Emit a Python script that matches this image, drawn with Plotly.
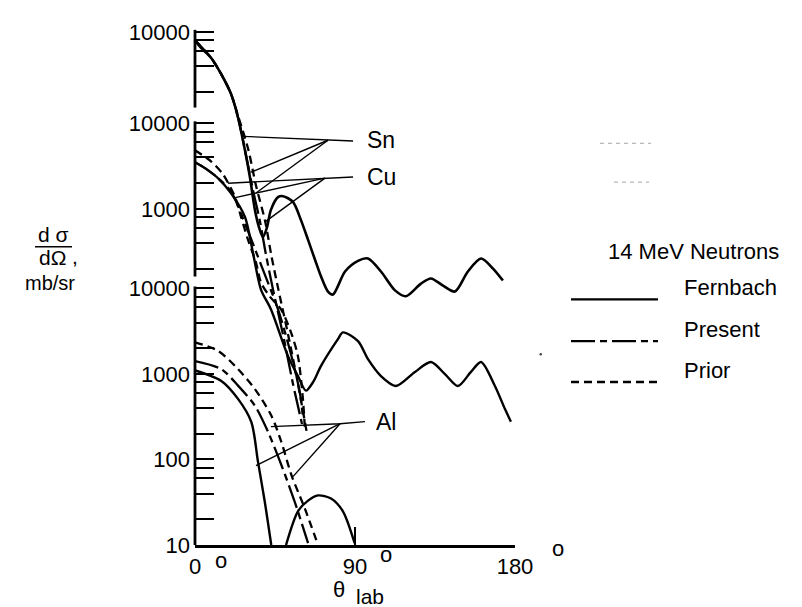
import numpy as np
import plotly.graph_objects as go

FONT = "Liberation Sans"

# ---------------- data (angle in degrees, cross section in mb/sr) ----------------
# Sn
sn_fern_deg = [0, 3.4, 9.0, 14.6, 20.2, 24.2, 28.1, 30.9, 33.7, 36.0, 38.2, 40.5, 42.7, 46.7, 49.5, 55.1,
               59.6, 63.6, 67.5, 70.9, 74.8, 77.6, 84.4, 91.7, 97.3, 104.6, 112.5, 118.7, 127.1, 132.7,
               139.5, 146.2, 153.5, 160.9, 167.6, 173.2]
sn_fern_val = [8000, 6500, 5000, 3250, 1900, 1000, 413, 200, 83, 52, 40, 52, 83, 117, 120, 103,
               63, 37, 21.7, 13.8, 9.2, 8.5, 15.8, 21, 22.4, 15.8, 9.5, 8.1, 11.4, 13.1,
               10.8, 9.2, 15.8, 22.4, 17.1, 12.4]
sn_pres_deg = [0, 9.0, 14.6, 20.2, 24.2, 28.7, 32.6, 36.6, 39.9, 43.9, 49.5, 55.1, 60.2]
sn_pres_val = [8000, 5000, 3250, 1900, 1000, 361, 142, 60, 25, 9.7, 2.9, 0.77, 0.26]
sn_prior_deg = [0, 9.0, 14.6, 20.2, 24.2, 30.0, 34.3, 39.4, 43.0, 47.0, 52.5, 58.0, 63.0]
sn_prior_val = [8000, 5000, 3250, 1900, 1050, 420, 160, 62, 24, 9.5, 2.8, 0.75, 0.2]

# Cu
cu_fern_deg = [0, 5.6, 12.9, 20.2, 28.1, 32.6, 37.1, 42.7, 52.3, 57.9, 62.4, 66.5, 70.9, 80.4, 83.2,
               91.7, 97.3, 104.6, 113.0, 123.7, 132.7, 140.6, 147.9, 155.2, 160.9, 168.7, 174.3, 177.7]
cu_fern_val = [3520, 3000, 2290, 1530, 807, 307, 114, 67, 19, 11.1, 7.5, 9.5, 14.6, 30, 36,
               28.4, 17.5, 11.1, 8.5, 12.4, 16.2, 11.7, 8.5, 12.4, 16.2, 8.5, 4.6, 3.25]
cu_pres_deg = [0, 5.6, 12.9, 20.2, 29.8, 38.2, 46.7, 54.0, 59.1, 60.8]
cu_pres_val = [3520, 3000, 2300, 1600, 550, 195, 67, 20, 6.9, 3.5]
cu_prior_deg = [0, 9.0, 15.7, 22.5, 25.9, 29.8, 34.3, 37.1, 42.0, 48.4, 54.0, 57.9, 60.7, 61.9]
cu_prior_val = [4850, 3610, 2550, 1380, 807, 436, 236, 138, 95, 67, 36, 19, 6, 2.5]

# Al
al_fern_deg = [0, 14.8, 24.2, 31.7, 35.4, 39.2, 42.9, None, 51.2, 57.9, 63.6, 69.2, 76.5, 83.2, 89.8]
al_fern_val = [1100, 830, 512, 274, 95, 32.5, 10, None, 10, 24.8, 33, 38, 35, 24.8, 10.5]
al_pres_deg = [0, 14.8, 24.2, 33.6, 41.1, 48.6, 56.1, 63.6]
al_pres_val = [1415, 1140, 731, 428, 210, 86, 32, 10.5]
al_prior_deg = [0, 12.9, 24.2, 33.6, 42.9, 48.6, 54.2, 61.7, 69.2]
al_prior_val = [2350, 1870, 1140, 670, 327, 160, 66, 27, 10]

# label pointers: (apex, end of label line, curve points)
sn_apex = (74.8, 541); sn_line_end = (88.9, 530); sn_ptr = [(27.0, 601), (31.5, 229), (34.3, 131)]
cu_apex = (73.1, 2290); cu_line_end = (88.9, 2360); cu_ptr = [(18.6, 2000), (21.4, 1340), (39.4, 706)]
al_apex = (81.6, 262); al_line_end = (95.6, 277); al_ptr = [(42.7, 242), (34.3, 85), (55.1, 63)]

# tick values for the three staggered scales
al_ticks = [10, 20, 40, 60, 80, 100, 200, 400, 600, 800, 1000, 2000, 4000, 6000, 8000, 10000]
cu_ticks = [200, 400, 600, 800, 1000, 2000, 4000, 6000, 8000, 10000]
sn_ticks = [2000, 4000, 6000, 8000, 10000]
x_ticks = [0, 90, 180]
x_ticktext = ["0", "90", "180"]

# ---------------- layout geometry ----------------
W, H = 802, 607
L, R, T, B = 187, 507, 12, 537
DEC = 86.0
span = (B - T) / DEC
al_range = [1.0, 1.0 + span]
cu_top = 4 + (113 - T) / DEC
cu_range = [cu_top - span, cu_top]
sn_top = 4 + (21 - T) / DEC
sn_range = [sn_top - span, sn_top]


def px(xp):
    return (xp - L) / (R - L)


def py(yp):
    return (B - yp) / (B - T)


def frac(v, rng):
    return (np.log10(v) - rng[0]) / (rng[1] - rng[0])


fig = go.Figure()

PRES_DASH = "24px,5px,7px,5px"
PRIOR_DASH = "8px,5px"


def add(deg, val, axis, dash, width=2.3):
    fig.add_trace(go.Scatter(x=deg, y=val, mode="lines", yaxis=axis, connectgaps=False,
                             line=dict(color="black", width=width, dash=dash, shape="spline", smoothing=0.8),
                             showlegend=False, hoverinfo="skip"))


add(sn_fern_deg, sn_fern_val, "y3", "solid", 2.6)
add(sn_pres_deg, sn_pres_val, "y3", PRES_DASH)
add(sn_prior_deg, sn_prior_val, "y3", PRIOR_DASH)
add(cu_fern_deg, cu_fern_val, "y2", "solid", 2.4)
add(cu_pres_deg, cu_pres_val, "y2", PRES_DASH)
add(cu_prior_deg, cu_prior_val, "y2", PRIOR_DASH)
add(al_fern_deg, al_fern_val, "y", "solid", 2.4)
add(al_pres_deg, al_pres_val, "y", PRES_DASH)
add(al_prior_deg, al_prior_val, "y", PRIOR_DASH)


def pointers(apex, line_end, ptr, axis):
    first = ptr[0]
    fig.add_trace(go.Scatter(x=[first[0], apex[0], line_end[0]], y=[first[1], apex[1], line_end[1]],
                             mode="lines", yaxis=axis, line=dict(color="black", width=1.4),
                             showlegend=False, hoverinfo="skip"))
    for p in ptr[1:]:
        fig.add_trace(go.Scatter(x=[p[0], apex[0]], y=[p[1], apex[1]], mode="lines", yaxis=axis,
                                 line=dict(color="black", width=1.4), showlegend=False, hoverinfo="skip"))


pointers(sn_apex, sn_line_end, sn_ptr, "y3")
pointers(cu_apex, cu_line_end, cu_ptr, "y2")
pointers(al_apex, al_line_end, al_ptr, "y")

tickfont = dict(family=FONT, size=22, color="black")


def yax(rng, ticks, overlay=None):
    txt = [str(t) if np.isclose(np.log10(t), round(np.log10(t))) else " " for t in ticks]
    d = dict(type="log", range=rng, tickvals=ticks, ticktext=txt, ticks="inside", ticklen=19,
             tickwidth=2, tickcolor="black", showline=False, showgrid=False, zeroline=False,
             tickfont=tickfont, anchor="x", side="left", ticklabelstandoff=4, fixedrange=True)
    if overlay:
        d["overlaying"] = overlay
    return d


shapes = []
# axis segments of the staggered scales
for rng, vtop, vbot in [(sn_range, 10000, 1306), (cu_range, 10000, 162), (al_range, 10000, 10)]:
    shapes.append(dict(type="line", xref="paper", yref="paper", x0=0, x1=0,
                       y0=frac(vtop, rng) + 0.004, y1=frac(vbot, rng), line=dict(color="black", width=2.8)))

# y title fraction bar
shapes.append(dict(type="line", xref="paper", yref="paper", x0=px(27), x1=px(64), y0=py(237), y1=py(237),
                   line=dict(color="black", width=1.6)))
# legend samples
for yy, dash in [(290, "solid"), (332, PRES_DASH), (373, PRIOR_DASH)]:
    shapes.append(dict(type="line", xref="paper", yref="paper", x0=px(563), x1=px(650), y0=py(yy), y1=py(yy),
                       line=dict(color="black", width=2.4, dash=dash)))
# faint scan specks on the right
for x0_, x1_, yy in [(592, 643, 133), (606, 641, 172)]:
    shapes.append(dict(type="line", xref="paper", yref="paper", x0=px(x0_), x1=px(x1_), y0=py(yy), y1=py(yy),
                       line=dict(color="#b8b8b8", width=1.2, dash="4px,4px")))
shapes.append(dict(type="circle", xref="paper", yref="paper", x0=px(531.5), x1=px(534), y0=py(344), y1=py(346.5),
                   line=dict(width=0), fillcolor="#444"))

ann = []


def text(t, x, y, size=20, xanchor="center", xref="paper", yref="paper"):
    ann.append(dict(text=t, x=x, y=y, xref=xref, yref=yref, showarrow=False, xanchor=xanchor,
                    yanchor="middle", font=dict(family=FONT, size=size, color="black")))


# element labels
text("Sn", sn_line_end[0] + 7, np.log10(sn_apex[1]), 23, "left", "x", "y3")
text("Cu", cu_line_end[0] + 7, np.log10(cu_line_end[1]), 23, "left", "x", "y2")
text("Al", al_line_end[0] + 5, np.log10(al_line_end[1]), 23, "left", "x", "y")

# degree marks
for xp_, yp_ in [(213, 553), (378, 547), (550, 541)]:
    text("o", px(xp_), py(yp_), 22)

text("θ", px(331), py(582), 22)
text("lab", px(362), py(589), 21)
text("d σ", px(45), py(225), 21)
text("dΩ", px(44), py(248), 21)
text(",", px(67), py(247), 21)
text("mb/sr", px(42), py(273), 20)

text("14 MeV Neutrons", px(598), py(242), 22, "left")
text("Fernbach", px(674), py(278), 22, "left")
text("Present", px(674), py(320), 22, "left")
text("Prior", px(674), py(361), 22, "left")

fig.update_layout(
    width=W, height=H, margin=dict(l=L, r=W - R, t=T, b=H - B),
    paper_bgcolor="white", plot_bgcolor="white", showlegend=False,
    xaxis=dict(range=[0, 180], tickvals=x_ticks, ticktext=x_ticktext, ticks="inside", ticklen=18,
               tickwidth=2, tickcolor="black", showline=True, linecolor="black", linewidth=2.8,
               showgrid=False, zeroline=False, tickfont=tickfont, ticklabelstandoff=0, fixedrange=True),
    yaxis=yax(al_range, al_ticks),
    yaxis2=yax(cu_range, cu_ticks, "y"),
    yaxis3=yax(sn_range, sn_ticks, "y"),
    shapes=shapes, annotations=ann,
)

fig.write_html("out.html")
